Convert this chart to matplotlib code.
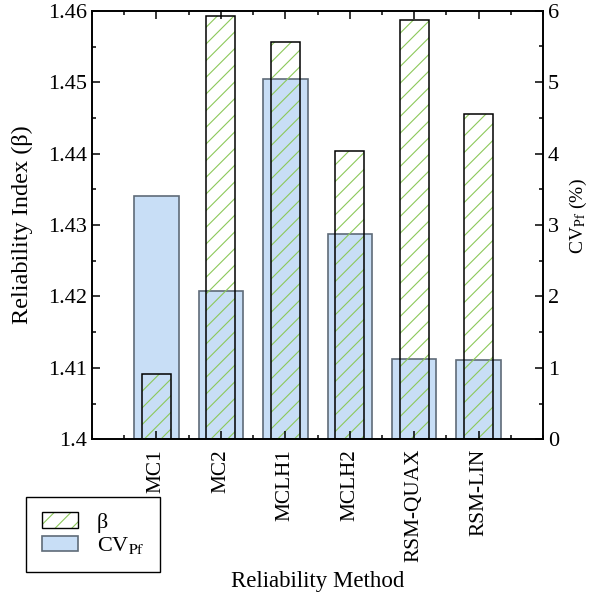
import matplotlib
matplotlib.use('Agg')
import matplotlib.pyplot as plt
from matplotlib.patches import Patch
from matplotlib.ticker import MultipleLocator

# data
methods = ['MC1', 'MC2', 'MCLH1', 'MCLH2', 'RSM-QUAX', 'RSM-LIN']
beta = [1.4092, 1.4593, 1.4556, 1.4404, 1.4587, 1.4456]
cv_pf = [3.41, 2.08, 5.04, 2.88, 1.12, 1.11]

plt.rcParams['font.family'] = ['Liberation Serif', 'DejaVu Serif']
plt.rcParams['mathtext.fontset'] = 'stix'
plt.rcParams['font.size'] = 16
plt.rcParams['hatch.linewidth'] = 0.8

green = '#8cc85a'
blue = '#c8def6'
blue_edge = '#5f6b78'

fig = plt.figure(figsize=(5.93, 6.0), dpi=100)
ax = fig.add_axes([0.155, 0.268, 0.761, 0.714])
ax2 = ax.twinx()

x = list(range(1, len(methods) + 1))

# CV bars on right axis (drawn first, behind)
ax2.bar(x, cv_pf, width=0.69, color=blue, edgecolor=blue_edge, linewidth=1.2, zorder=1)
ax2.set_ylim(0, 6)

# beta hatched bars on left axis, drawn over the blue ones
ax.set_zorder(ax2.get_zorder() + 1)
ax.patch.set_visible(False)
ax.bar(x, [b - 1.4 for b in beta], bottom=1.4, width=0.45, color='none',
       edgecolor=green, hatch='//', linewidth=0)
ax.bar(x, [b - 1.4 for b in beta], bottom=1.4, width=0.45, color='none',
       edgecolor='black', linewidth=1.1)
ax.set_ylim(1.4, 1.46)
ax.set_xlim(0, 7)

ax.set_xticks(x)
ax.set_xticklabels(methods, rotation=90, fontsize=15.3)
ax.xaxis.set_minor_locator(MultipleLocator(0.5))
ax.yaxis.set_minor_locator(MultipleLocator(0.005))
ax.set_yticks([1.4, 1.41, 1.42, 1.43, 1.44, 1.45, 1.46])
ax.set_yticklabels(['1.4', '1.41', '1.42', '1.43', '1.44', '1.45', '1.46'])
ax2.yaxis.set_major_locator(MultipleLocator(1))
ax2.yaxis.set_minor_locator(MultipleLocator(0.5))

ax.tick_params(axis='x', which='both', direction='in', top=True)
ax.tick_params(axis='x', which='major', pad=7)
ax.tick_params(axis='y', which='both', direction='in', right=False)
ax2.tick_params(axis='y', which='both', direction='in')
for a in (ax, ax2):
    a.tick_params(which='major', length=6, width=1.1)
    a.tick_params(which='minor', length=3, width=1.1)
    for s in a.spines.values():
        s.set_linewidth(1.2)

ax.set_ylabel('Reliability Index (β)', fontsize=17.5, va='center')
ax.yaxis.set_label_coords(-0.155, 0.5)
ax2.set_ylabel('CV$_{\\mathrm{Pf}}$ (%)', fontsize=14, va='center')
ax2.yaxis.set_label_coords(1.078, 0.52)
ax.set_xlabel('Reliability Method', fontsize=16.5, va='center')
ax.xaxis.set_label_coords(0.5, -0.333)

h_beta = (Patch(facecolor='white', edgecolor=green, hatch='//', linewidth=0),
          Patch(facecolor='none', edgecolor='black', linewidth=1.0))
h_cv = Patch(facecolor=blue, edgecolor=blue_edge, linewidth=1.2)
leg = fig.legend([h_beta, h_cv], ['β', 'CV$_{\\mathrm{Pf}}$'],
                 loc='lower left', bbox_to_anchor=(0.044, 0.047),
                 borderaxespad=0, fontsize=16,
                 fancybox=False, edgecolor='black', framealpha=1,
                 handlelength=1.62, handleheight=0.72, borderpad=0.7,
                 handletextpad=0.85, labelspacing=0.1)
leg.get_frame().set_linewidth(1.0)

fig.savefig('out.png', dpi=100)
